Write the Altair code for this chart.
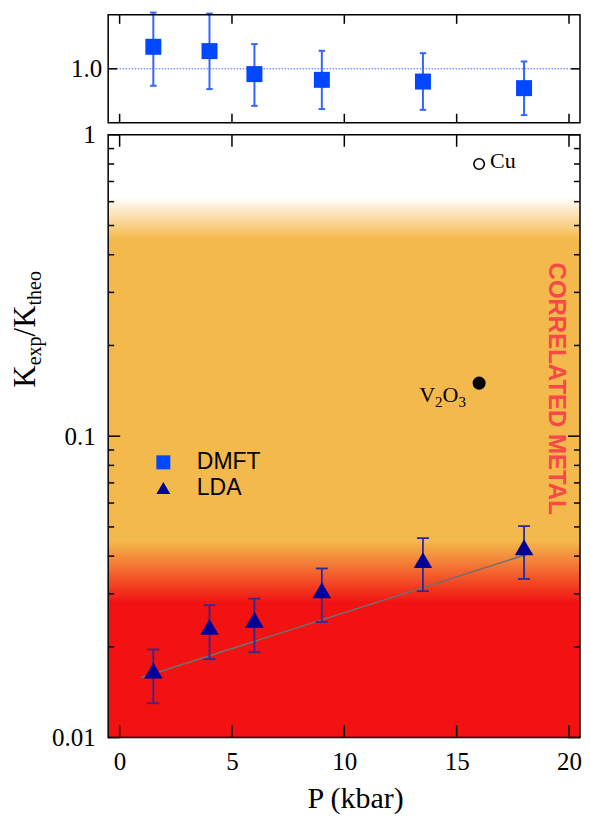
import math
import altair as alt
import pandas as pd

# ---------------- data ----------------
# top panel (DMFT ratio)
P_dmft = [1.5, 4.0, 6.0, 9.0, 13.5, 18.0]
R_dmft = [1.204, 1.164, 0.951, 0.898, 0.882, 0.821]
R_dmft_lo = [0.843, 0.812, 0.657, 0.627, 0.620, 0.571]
R_dmft_hi = [1.521, 1.512, 1.229, 1.167, 1.145, 1.068]
R_ref = [1.0]

# bottom panel (LDA)
P_lda = [1.5, 4.0, 6.0, 9.0, 13.5, 18.0]
K_lda = [0.0167, 0.0233, 0.0246, 0.0308, 0.0388, 0.0428]
K_lda_lo = [0.0130, 0.0182, 0.0192, 0.0242, 0.0306, 0.0336]
K_lda_hi = [0.0196, 0.0275, 0.0289, 0.0364, 0.0459, 0.0503]

# fitted line
fit_P = [0.94, 18.37]
fit_K = [0.0158, 0.0411]

# reference materials
cu_P, cu_K, cu_label = [16.0], [0.80], ["Cu"]
v2o3_P, v2o3_K = [16.0], [0.150]
v2o3_parts = ["V", "2", "O", "3"]

series = ["DMFT", "LDA"]
x_ticks = [0, 5, 10, 15, 20]
y_major = [0.01, 0.1, 1.0]
y_minor = [0.02, 0.03, 0.04, 0.05, 0.06, 0.07, 0.08, 0.09,
           0.2, 0.3, 0.4, 0.5, 0.6, 0.7, 0.8, 0.9]
top_y_ticks = [1.0]

# colour band limits (K values where the background changes)
band_K = [0.62, 0.45, 0.045, 0.028]

ylabel_parts = ["K", "exp", "/K", "theo"]
region_label = ["CORRELATED METAL"]
x_title = "P (kbar)"

# ---------------- styling ----------------
W, H_TOP, H_BOT = 472, 108, 603
SERIF = "Liberation Serif"
SANS = "Liberation Sans"
BLUE = "#0047FF"
BLUE_ERR = "#3366FF"
NAVY = "#000099"
NAVY_ERR = "#2B2B99"
ORANGE = "#F4B94C"
RED = "#F21212"

xs = alt.Scale(domain=[-0.51, 20.49], nice=False, zero=False)
ys_top = alt.Scale(domain=[0.5, 1.5], nice=False, zero=False)
ys_bot = alt.Scale(type="log", domain=[0.01, 1.0], nice=False)

ax_x_top = alt.Axis(labels=False, ticks=False, tickSize=0, domain=False, grid=False, title=None)
ax_y_top = alt.Axis(values=top_y_ticks, format=".1f", ticks=False, tickSize=0, domain=False,
                    grid=False, title=None, labelFont=SERIF, labelFontSize=25,
                    labelPadding=6.5, labelColor="black", labelFlush=False)
ax_x_bot = alt.Axis(values=x_ticks, format="d", ticks=False, tickSize=0, domain=False, grid=False,
                    labelFont=SERIF, labelFontSize=25, labelPadding=12, labelColor="black",
                    labelFlush=False, title=x_title, titleFont=SERIF, titleFontSize=30,
                    titleFontWeight="normal", titleColor="black", titlePadding=8.5,
                    titleX=247)
ax_y_bot = alt.Axis(values=y_major, format="~g", ticks=False, tickSize=0, domain=False, grid=False,
                    labelFont=SERIF, labelFontSize=25, labelPadding=13, labelColor="black",
                    labelFlush=False, labelOverlap=False, title=None)


def XT(f):
    return alt.X(f, type="quantitative", scale=xs, axis=ax_x_top)


def YT(f):
    return alt.Y(f, type="quantitative", scale=ys_top, axis=ax_y_top)


def XB(f):
    return alt.X(f, type="quantitative", scale=xs, axis=ax_x_bot)


def YB(f):
    return alt.Y(f, type="quantitative", scale=ys_bot, axis=ax_y_bot)


def one(**kw):
    return pd.DataFrame({k: [v] for k, v in kw.items()})


# ---------------- top panel ----------------
dmft = pd.DataFrame({"P": P_dmft, "R": R_dmft, "lo": R_dmft_lo, "hi": R_dmft_hi})
caps_top = pd.DataFrame({"P": P_dmft + P_dmft, "v": R_dmft_lo + R_dmft_hi})
xt_df = pd.DataFrame({"t": x_ticks})
yt_df = pd.DataFrame({"t": top_y_ticks})
rule = dict(color="black", strokeWidth=1.5)

top_ref = alt.Chart(pd.DataFrame({"R": R_ref})).mark_rule(
    color="#4466FF", strokeWidth=1, strokeDash=[1.5, 1.5]
).encode(y=YT("R"))

top_err = alt.Chart(dmft).mark_rule(color=BLUE_ERR, strokeWidth=2).encode(
    x=XT("P"), y=YT("lo"), y2="hi:Q")

top_caps = alt.Chart(caps_top).mark_tick(
    orient="horizontal", size=6.5, thickness=2, color=BLUE_ERR, opacity=1
).encode(x=XT("P"), y=YT("v"))

top_pts = alt.Chart(dmft).mark_point(
    shape="square", filled=True, size=256, opacity=1, color=BLUE
).encode(x=XT("P"), y=YT("R"))

top_tick_layers = [
    alt.Chart(xt_df).mark_rule(**rule).encode(x=XT("t"), y=alt.value(0), y2=alt.value(9)),
    alt.Chart(xt_df).mark_rule(**rule).encode(x=XT("t"), y=alt.value(H_TOP),
                                              y2=alt.value(H_TOP - 9)),
    alt.Chart(yt_df).mark_rule(**rule).encode(y=YT("t"), x=alt.value(0), x2=alt.value(9)),
    alt.Chart(yt_df).mark_rule(**rule).encode(y=YT("t"), x=alt.value(W), x2=alt.value(W - 9)),
]

frame_top = alt.Chart(one(a=1)).mark_rect(fillOpacity=0, stroke="black", strokeWidth=1.5).encode(
    x=alt.value(0), x2=alt.value(W), y=alt.value(0), y2=alt.value(H_TOP))

top = alt.layer(top_ref, top_err, top_caps, top_pts, *top_tick_layers, frame_top).properties(
    width=W, height=H_TOP)

# ---------------- bottom panel ----------------
lda = pd.DataFrame({"P": P_lda, "K": K_lda, "lo": K_lda_lo, "hi": K_lda_hi,
                    "series": ["LDA"] * len(P_lda)})
caps_bot = pd.DataFrame({"P": P_lda + P_lda, "v": K_lda_lo + K_lda_hi})


def off(v):
    return -math.log10(v) / 2.0


grad = alt.LinearGradient(
    gradient="linear", x1=0, x2=0, y1=0, y2=1,
    stops=[
        alt.GradientStop(color="#FFFFFF", offset=0),
        alt.GradientStop(color="#FFFFFF", offset=off(band_K[0])),
        alt.GradientStop(color=ORANGE, offset=off(band_K[1])),
        alt.GradientStop(color=ORANGE, offset=off(band_K[2])),
        alt.GradientStop(color=RED, offset=off(band_K[3])),
        alt.GradientStop(color=RED, offset=1),
    ],
)

bg = alt.Chart(one(top=1.0, bot=0.01)).mark_rect(fill=grad).encode(
    x=alt.value(0), x2=alt.value(W), y=YB("top"), y2="bot:Q")

fit = alt.Chart(pd.DataFrame({"P": fit_P, "K": fit_K})).mark_line(
    color="#707070", strokeWidth=1.5).encode(x=XB("P"), y=YB("K"))

bot_err = alt.Chart(lda).mark_rule(color=NAVY_ERR, strokeWidth=1.8).encode(
    x=XB("P"), y=YB("lo"), y2="hi:Q")

bot_caps = alt.Chart(caps_bot).mark_tick(
    orient="horizontal", size=12, thickness=1.8, color=NAVY_ERR, opacity=1
).encode(x=XB("P"), y=YB("v"))

leg = alt.Legend(orient="none", legendX=43.7, legendY=316.2, title=None, symbolSize=196,
                 labelFont=SANS, labelFontSize=23, labelOffset=22, rowPadding=1.6,
                 padding=0, labelColor="black", symbolStrokeWidth=0, symbolOpacity=1)

bot_pts = alt.Chart(lda).mark_point(filled=True, size=340, opacity=1).encode(
    x=XB("P"), y=YB("K"),
    color=alt.Color("series:N", scale=alt.Scale(domain=series, range=[BLUE, NAVY]), legend=leg),
    shape=alt.Shape("series:N", scale=alt.Scale(domain=series, range=["square", "triangle-up"]),
                    legend=leg),
)

cu_df = pd.DataFrame({"P": cu_P, "K": cu_K, "t": cu_label})
cu_pt = alt.Chart(cu_df).mark_point(shape="circle", filled=False, size=110, color="black",
                                    strokeWidth=1.6, opacity=1).encode(x=XB("P"), y=YB("K"))
cu_txt = alt.Chart(cu_df).mark_text(font=SERIF, fontSize=22, align="left", baseline="alphabetic",
                                    dx=11, dy=4, color="black").encode(
    x=XB("P"), y=YB("K"), text="t:N")

v_df = pd.DataFrame({"P": v2o3_P, "K": v2o3_K})
v_pt = alt.Chart(v_df).mark_point(shape="circle", filled=True, size=170, color="black",
                                  opacity=1).encode(x=XB("P"), y=YB("K"))
v_styles = [(22, -60.0, 19), (15, -44.1, 24), (22, -36.6, 19), (15, -20.7, 24)]
v_layers = []
for part, (fs, dx, dy) in zip(v2o3_parts, v_styles):
    d = v_df.assign(t=part)
    v_layers.append(alt.Chart(d).mark_text(font=SERIF, fontSize=fs, align="left",
                                           baseline="alphabetic", dx=dx, dy=dy,
                                           color="black").encode(
        x=XB("P"), y=YB("K"), text="t:N"))

region = alt.Chart(pd.DataFrame({"t": region_label})).mark_text(
    font=SANS, fontWeight="bold", fontSize=24, angle=90, align="center",
    baseline="middle", color="#F84848").encode(
    x=alt.value(447.5), y=alt.value(254), text="t:N")

# inward ticks
yM = pd.DataFrame({"t": y_major})
ym = pd.DataFrame({"t": y_minor})
bot_tick_layers = [
    alt.Chart(xt_df).mark_rule(**rule).encode(x=XB("t"), y=alt.value(0), y2=alt.value(12)),
    alt.Chart(xt_df).mark_rule(**rule).encode(x=XB("t"), y=alt.value(H_BOT),
                                              y2=alt.value(H_BOT - 12)),
    alt.Chart(yM).mark_rule(**rule).encode(y=YB("t"), x=alt.value(0), x2=alt.value(12)),
    alt.Chart(yM).mark_rule(**rule).encode(y=YB("t"), x=alt.value(W), x2=alt.value(W - 12)),
    alt.Chart(ym).mark_rule(**rule).encode(y=YB("t"), x=alt.value(0), x2=alt.value(6)),
    alt.Chart(ym).mark_rule(**rule).encode(y=YB("t"), x=alt.value(W), x2=alt.value(W - 6)),
]

frame_bot = alt.Chart(one(a=1)).mark_rect(fillOpacity=0, stroke="black", strokeWidth=1.5).encode(
    x=alt.value(0), x2=alt.value(W), y=alt.value(0), y2=alt.value(H_BOT))

# y title made of pieces (with subscripts)
t_styles = [(31, 0.0, 0), (20, 22.4, 6), (31, 51.3, 0), (20, 82.3, 6)]
title_layers = []
for part, (fs, dx, dy) in zip(ylabel_parts, t_styles):
    title_layers.append(alt.Chart(pd.DataFrame({"t": [part]})).mark_text(
        font=SERIF, fontSize=fs, angle=270, align="left", baseline="alphabetic",
        dx=dx, dy=dy, color="black").encode(x=alt.value(-73), y=alt.value(253), text="t:N"))

bottom = alt.layer(bg, fit, bot_err, bot_caps, bot_pts, cu_pt, cu_txt, v_pt, *v_layers, region,
                   *bot_tick_layers, frame_bot, *title_layers).properties(width=W, height=H_BOT)

chart = alt.vconcat(top, bottom, spacing=12, bounds="flush").resolve_scale(
    color="independent", shape="independent"
).properties(
    padding={"left": 2.2, "top": 2.7, "right": 0, "bottom": 0}
).configure_view(stroke=None)

chart.save("out.html", embed_options={"renderer": "svg", "actions": False})
